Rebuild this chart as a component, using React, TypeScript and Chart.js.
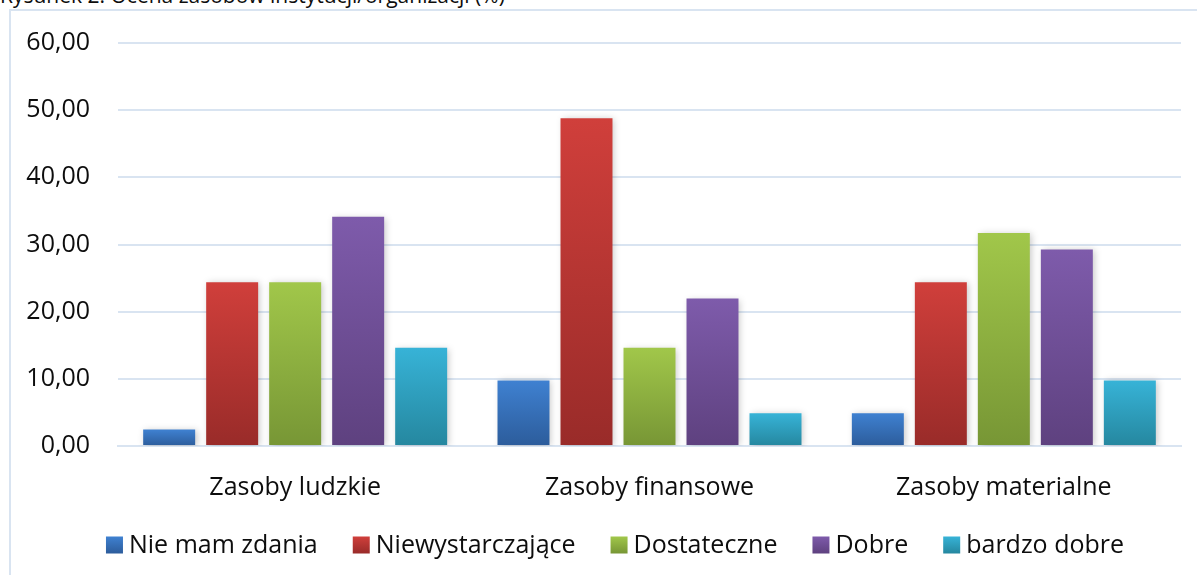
import React, { useEffect, useRef } from "react";
import { Chart, registerables } from "chart.js";

Chart.register(...registerables);

const TITLE = "Rysunek 2. Ocena zasobów instytucji/organizacji (%)";
const categories = ["Zasoby ludzkie", "Zasoby finansowe", "Zasoby materialne"];
const seriesNames = ["Nie mam zdania", "Niewystarczające", "Dostateczne", "Dobre", "bardzo dobre"];
const nieMamZdania = [2.44, 9.76, 4.88];
const niewystarczajace = [24.39, 48.78, 24.39];
const dostateczne = [24.39, 14.63, 31.71];
const dobre = [34.15, 21.95, 29.27];
const bardzoDobre = [14.63, 4.88, 9.76];
const seriesValues = [nieMamZdania, niewystarczajace, dostateczne, dobre, bardzoDobre];
const yTicks = [0, 10, 20, 30, 40, 50, 60];

const topColors = ["#3F81D1", "#D03F3B", "#A1C74A", "#7E5BAB", "#37B3D7"];
const bottomColors = ["#2C5C9B", "#992B29", "#779635", "#5E417F", "#25879F"];

const FONT = "'Open Sans', 'Noto Sans', sans-serif";
const FONT_SIZE = 25;
const TEXT_COLOR = "#0d0d0d";
const GRID_COLOR = "#D9E4F1";

const barFill = (i: number) => (ctx: any) => {
  const chart = ctx.chart;
  const y = chart.scales?.y;
  if (!y || ctx.raw == null) return topColors[i];
  const top = y.getPixelForValue(ctx.raw);
  const bottom = y.getPixelForValue(0);
  if (!isFinite(top) || !isFinite(bottom) || top === bottom) return topColors[i];
  const g = chart.ctx.createLinearGradient(0, top, 0, bottom);
  g.addColorStop(0, topColors[i]);
  g.addColorStop(1, bottomColors[i]);
  return g;
};

const shadowPlugin = {
  id: "barShadow",
  beforeDatasetsDraw(chart: any) {
    const c = chart.ctx;
    c.save();
    c.shadowColor = "rgba(0,0,0,0.22)";
    c.shadowBlur = 7;
    c.shadowOffsetX = 2;
    c.shadowOffsetY = 1;
  },
  afterDatasetsDraw(chart: any) {
    chart.ctx.restore();
  },
};

const legendPlugin = {
  id: "customLegend",
  afterDraw(chart: any) {
    const c = chart.ctx;
    c.save();
    c.font = `${FONT_SIZE}px ${FONT}`;
    c.textBaseline = "middle";
    c.textAlign = "left";
    const box = 17;
    const gapText = 6;
    const itemGap = 35;
    const widths = seriesNames.map((n) => c.measureText(n).width);
    const total = widths.reduce((a, w) => a + box + gapText + w, 0) + itemGap * (seriesNames.length - 1);
    let x = 615 - total / 2;
    const cy = 545;
    seriesNames.forEach((name, i) => {
      const g = c.createLinearGradient(0, cy - box / 2, 0, cy + box / 2);
      g.addColorStop(0, topColors[i]);
      g.addColorStop(1, bottomColors[i]);
      c.fillStyle = g;
      c.fillRect(x, cy - box / 2, box, box);
      c.fillStyle = TEXT_COLOR;
      c.fillText(name, x + box + gapText, cy + 1);
      x += box + gapText + widths[i] + itemGap;
    });
    c.restore();
  },
};

export default function App() {
  const canvasRef = useRef<HTMLCanvasElement>(null);

  useEffect(() => {
    if (!canvasRef.current) return;
    const chart = new Chart(canvasRef.current, {
      type: "bar",
      data: {
        labels: categories,
        datasets: seriesNames.map((name, i) => ({
          label: name,
          data: seriesValues[i],
          backgroundColor: barFill(i),
          borderWidth: 0,
          categoryPercentage: 0.889,
          barPercentage: 0.825,
        })),
      },
      options: {
        responsive: false,
        animation: false,
        layout: { padding: { left: 0, right: 16, top: 40, bottom: 0 } },
        plugins: {
          legend: { display: false },
          tooltip: { enabled: false },
          title: { display: false },
        },
        scales: {
          x: {
            grid: { display: false, drawTicks: false },
            border: { display: true, color: GRID_COLOR, width: 2 },
            ticks: {
              color: TEXT_COLOR,
              font: { family: FONT, size: FONT_SIZE },
              padding: 27,
              maxRotation: 0,
            },
            afterFit: (scale: any) => {
              scale.height = 129;
            },
          },
          y: {
            min: 0,
            max: 60,
            afterBuildTicks: (scale: any) => {
              scale.ticks = yTicks.map((v) => ({ value: v }));
            },
            grid: { color: GRID_COLOR, lineWidth: 2, drawTicks: false },
            border: { display: false },
            ticks: {
              color: TEXT_COLOR,
              font: { family: FONT, size: FONT_SIZE },
              padding: 28,
              callback: (v: any) => Number(v).toFixed(2).replace(".", ","),
            },
            afterFit: (scale: any) => {
              scale.width = 118;
            },
          },
        },
      },
      plugins: [shadowPlugin, legendPlugin],
    });
    return () => chart.destroy();
  }, []);

  return (
    <div style={{ position: "absolute", left: 0, top: 0, width: 1197, height: 575, overflow: "hidden", background: "#fff" }}>
      <div
        style={{
          position: "absolute",
          left: 0,
          top: -15,
          fontFamily: FONT,
          fontSize: 21,
          lineHeight: "21px",
          color: TEXT_COLOR,
          whiteSpace: "nowrap",
        }}
      >
        {TITLE}
      </div>
      <div
        style={{
          position: "absolute",
          left: 9,
          top: 9,
          width: 1400,
          height: 800,
          border: `2px solid ${GRID_COLOR}`,
          boxSizing: "border-box",
        }}
      />
      <canvas ref={canvasRef} width={1197} height={575} style={{ position: "absolute", left: 0, top: 0 }} />
    </div>
  );
}
